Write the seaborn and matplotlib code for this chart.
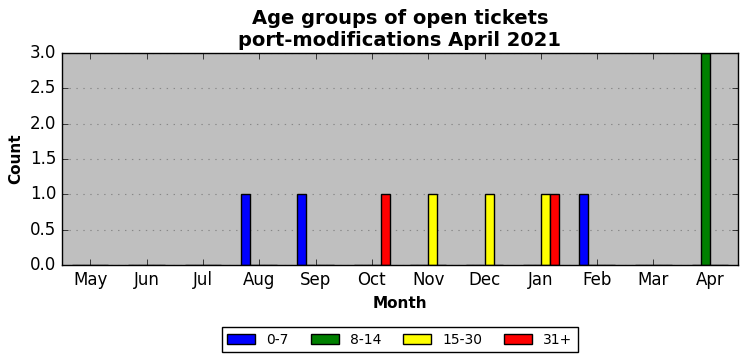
import seaborn as sns
import matplotlib.pyplot as plt
import pandas as pd

plt.style.use('classic')

meses = ["May", "Jun", "Jul", "Aug", "Sep", "Oct", "Nov", "Dec", "Jan", "Feb", "Mar", "Apr"]
grupos = ["0-7", "8-14", "15-30", "31+"]
cores = ["blue", "green", "yellow", "red"]

g_0_7 = [0, 0, 0, 1, 1, 0, 0, 0, 0, 1, 0, 0]
g_8_14 = [0, 0, 0, 0, 0, 0, 0, 0, 0, 0, 0, 3]
g_15_30 = [0, 0, 0, 0, 0, 0, 1, 1, 1, 0, 0, 0]
g_31 = [0, 0, 0, 0, 0, 1, 0, 0, 1, 0, 0, 0]

linhas = []
for grupo, valores in zip(grupos, [g_0_7, g_8_14, g_15_30, g_31]):
    for mes, v in zip(meses, valores):
        linhas.append({"Month": mes, "Group": grupo, "Count": v})
df = pd.DataFrame(linhas)

fig = plt.figure(figsize=(7.47, 3.61), dpi=100, facecolor="white")
ax = fig.add_axes([62 / 747, 1 - 265 / 361, 676 / 747, 212 / 361])
ax.set_facecolor("#bfbfbf")

sns.barplot(data=df, x="Month", y="Count", hue="Group", order=meses, hue_order=grupos,
            palette=dict(zip(grupos, cores)), width=0.64, edgecolor="black",
            linewidth=1.0, saturation=1, ax=ax, legend=True)

ax.set_xlim(-0.5, 11.5)
ax.set_ylim(0, 3.0)
ax.yaxis.grid(True, linestyle=(0, (1, 4)), color="#888888", linewidth=0.8)
ax.xaxis.grid(False)
ax.set_axisbelow(True)
ax.set_xlabel("Month", fontsize=11, fontweight="bold")
ax.set_ylabel("Count", fontsize=11, fontweight="bold")
ax.tick_params(labelsize=12)
ax.set_title("Age groups of open tickets\nport-modifications April 2021", fontsize=14, fontweight="bold")

ax.legend(loc="upper center", bbox_to_anchor=(0.5, -0.26), ncol=4, fontsize=10,
          frameon=True, fancybox=False, title=None, columnspacing=1.6)

fig.savefig("out.png", dpi=100, facecolor="white")
